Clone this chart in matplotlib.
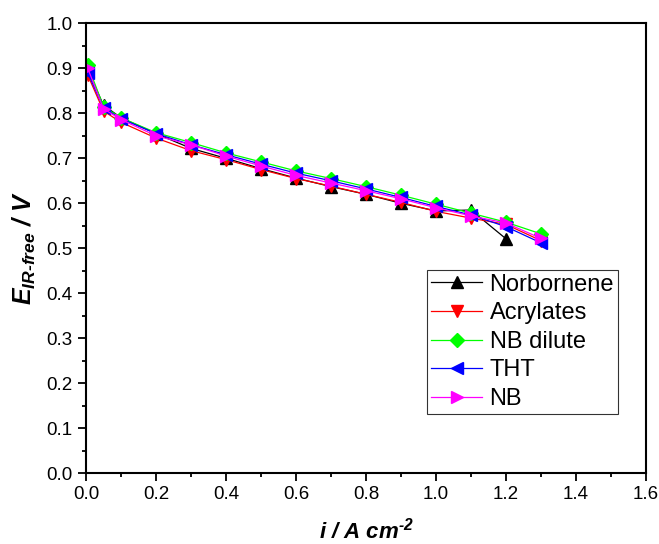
import numpy as np
import matplotlib
matplotlib.use("Agg")
import matplotlib.pyplot as plt
from matplotlib.ticker import MultipleLocator

plt.rcParams['font.family'] = ['Liberation Sans', 'DejaVu Sans']
plt.rcParams['mathtext.fontset'] = 'custom'
plt.rcParams['mathtext.rm'] = 'Liberation Sans:bold:italic'
plt.rcParams['mathtext.it'] = 'Liberation Sans:bold:italic'
plt.rcParams['mathtext.bf'] = 'Liberation Sans:bold:italic'

# current density (A cm-2)
current = [0.005, 0.05, 0.1, 0.2, 0.3, 0.4, 0.5, 0.6, 0.7, 0.8, 0.9, 1.0, 1.1, 1.2, 1.3]

# IR-free cell potential (V) for each ionomer
norbornene = [0.895, 0.818, 0.790, 0.755, 0.722, 0.700, 0.677, 0.656, 0.637, 0.620, 0.600, 0.583, 0.585, 0.521]
acrylates = [0.885, 0.805, 0.780, 0.745, 0.717, 0.697, 0.675, 0.655, 0.638, 0.620, 0.602, 0.582, 0.567, 0.553, 0.517]
nb_dilute = [0.907, 0.815, 0.790, 0.757, 0.735, 0.712, 0.692, 0.672, 0.655, 0.637, 0.618, 0.598, 0.578, 0.558, 0.532]
tht = [0.890, 0.812, 0.788, 0.755, 0.730, 0.708, 0.687, 0.667, 0.650, 0.632, 0.613, 0.593, 0.574, 0.548, 0.512]
nb = [0.900, 0.810, 0.786, 0.750, 0.730, 0.705, 0.683, 0.662, 0.645, 0.628, 0.610, 0.590, 0.572, 0.556, 0.522]

series = [
    ("Norbornene", norbornene, "black", "^"),
    ("Acrylates", acrylates, "#ff0000", "v"),
    ("NB dilute", nb_dilute, "#00ff00", "D"),
    ("THT", tht, "#0000ff", "<"),
    ("NB", nb, "#ff00ff", ">"),
]

fig = plt.figure(figsize=(6.59, 5.44), dpi=100)
ax = fig.add_axes([0.1305, 0.130, 0.8498, 0.8272])

for name, vals, col, mk in series:
    ms = 7 if mk == "D" else 9
    ax.plot(current[:len(vals)], vals, color=col, marker=mk, markersize=ms,
            linewidth=0.9, label=name)

ax.set_xlim(0, 1.6)
ax.set_ylim(0, 1.0)
ax.xaxis.set_major_locator(MultipleLocator(0.2))
ax.xaxis.set_minor_locator(MultipleLocator(0.1))
ax.yaxis.set_major_locator(MultipleLocator(0.1))
ax.yaxis.set_minor_locator(MultipleLocator(0.05))
ax.xaxis.set_major_formatter(matplotlib.ticker.FormatStrFormatter('%.1f'))
ax.yaxis.set_major_formatter(matplotlib.ticker.FormatStrFormatter('%.1f'))
ax.tick_params(which='both', direction='out', top=False, right=False, width=1.3,
               labelsize=13.5, pad=3.5)
ax.tick_params(which='major', length=6)
ax.tick_params(which='minor', length=3)
for sp in ax.spines.values():
    sp.set_linewidth(1.5)

ax.set_xlabel(r'$i$ / A cm$^{\text{-}2}$', fontsize=16, fontweight='bold', style='italic', labelpad=10)
ax.set_ylabel(r'$E_{IR\text{-}free}$ / V', fontsize=18, fontweight='bold', style='italic', labelpad=6)

leg = ax.legend(loc='upper left', bbox_to_anchor=(427 / 659, 1 - 270 / 544),
                bbox_transform=fig.transFigure, borderaxespad=0, fontsize=17,
                frameon=True, fancybox=False, edgecolor='black', handlelength=2.2,
                handletextpad=0.3, labelspacing=0.28, borderpad=0.15)
leg.get_frame().set_linewidth(0.8)

fig.savefig("out.png", dpi=100)
